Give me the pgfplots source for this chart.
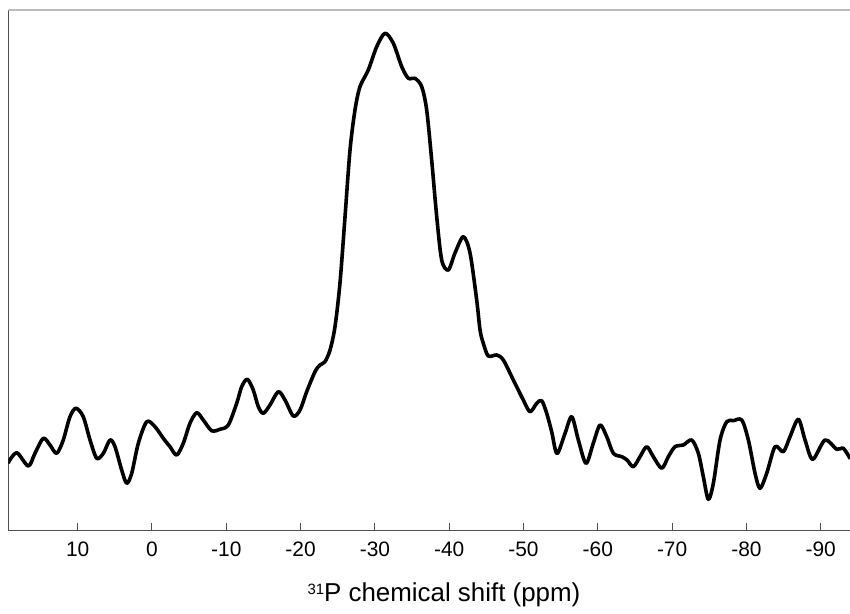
\documentclass[border=0pt]{standalone}
\usepackage{fontspec}
\setmainfont{Liberation Sans}
\usepackage{pgfplots}
\pgfplotsset{compat=1.18}
\usepackage{pgfplotstable}
\definecolor{axisdark}{HTML}{505050}
\definecolor{axislight}{HTML}{BDBDBD}

\pgfplotstableread{
x y
19.34 68.0
18.21 78.0
16.65 64.7
15.75 77.4
14.63 92.4
13.73 85.7
12.83 77.4
11.94 90.7
11.04 114.0
10.23 122.4
9.25 114.0
8.34 90.7
7.44 72.4
6.55 77.4
5.65 90.7
4.98 84.0
4.08 60.7
3.41 47.4
2.73 57.4
1.84 87.4
0.71 109.0
-0.40 104.0
-1.52 92.4
-2.42 84.0
-3.32 75.7
-4.21 87.4
-5.11 107.4
-6.02 118.0
-6.90 110.7
-8.03 100.0
-9.15 101.4
-10.27 105.7
-11.40 127.4
-12.07 144.0
-12.83 151.4
-13.63 140.7
-14.31 124.0
-14.98 117.4
-15.88 125.7
-17.00 139.0
-17.90 130.7
-19.02 114.7
-19.92 120.7
-20.82 139.0
-21.94 159.0
-22.61 165.7
-23.28 169.0
-23.96 180.7
-24.63 204.0
-25.30 247.7
-25.98 314.0
-26.65 380.7
-27.32 420.7
-27.99 444.0
-29.11 460.7
-30.24 484.0
-31.36 497.4
-32.48 487.4
-33.61 464.0
-34.50 452.4
-35.40 452.4
-36.30 444.0
-36.97 420.7
-37.64 370.7
-38.32 314.0
-38.99 270.7
-39.88 260.7
-40.78 277.7
-41.90 294.0
-42.80 277.7
-43.70 230.7
-44.15 200.7
-44.59 187.4
-45.26 174.7
-46.39 175.7
-47.28 170.7
-48.63 150.7
-49.97 130.7
-50.87 119.0
-51.78 127.4
-52.45 130.0
-53.12 117.4
-53.80 98.7
-54.51 77.2
-55.59 97.4
-56.49 114.0
-57.38 90.7
-58.41 67.4
-59.39 87.4
-60.30 105.7
-61.20 94.0
-62.09 77.4
-63.22 74.0
-63.93 70.7
-64.78 64.0
-65.68 74.0
-66.58 84.0
-67.47 74.0
-68.60 62.4
-69.49 74.0
-70.39 84.0
-71.51 85.7
-72.64 90.7
-73.53 77.4
-74.20 54.0
-74.87 31.4
-75.55 47.4
-76.45 90.7
-77.35 109.0
-78.24 110.0
-79.37 110.7
-80.26 90.7
-81.16 57.4
-81.83 42.4
-82.73 57.4
-83.85 84.0
-84.97 79.0
-85.87 94.0
-86.99 111.4
-87.89 90.7
-88.92 71.4
-90.58 90.7
-92.15 81.4
-93.04 82.4
-93.94 72.4
}\spectrum

\begin{document}
\begin{tikzpicture}
\useasboundingbox (-8.3bp,-83.3bp) rectangle (841.7bp,530.7bp);
\begin{axis}[
  at={(0,0)}, anchor=south west,
  scale only axis,
  width=841.7bp, height=520.7bp,
  x dir=reverse,
  xmin=-93.94, xmax=19.34,
  ymin=0, ymax=520.7,
  axis x line*=bottom,
  axis y line*=left,
  axis line style={draw=axisdark, line width=1.3bp},
  ytick=\empty,
  xtick={10,0,-10,-20,-30,-40,-50,-60,-70,-80,-90},
  xticklabels={10,0,-10,-20,-30,-40,-50,-60,-70,-80,-90},
  tick align=inside,
  major tick length=7.3bp,
  tick style={draw=axisdark, line width=1bp},
  xticklabel style={font=\fontsize{21}{25}\selectfont, anchor=base, yshift=-25.3bp, text=black},
  xlabel={\raisebox{7.7bp}{\fontsize{15}{15}\selectfont 31}P chemical shift (ppm)},
  xlabel style={font=\fontsize{26}{30}\selectfont, at={(axis description cs:0.5,0)}, anchor=base, yshift=-71bp, xshift=14.8bp},
  clip=true,
]
\addplot[black, line width=3.6bp, smooth, tension=0.5, line join=round, line cap=round] table[x=x,y=y] {\spectrum};
\draw[axislight, line width=1.1bp] (rel axis cs:0,1) -- (rel axis cs:1,1);
\end{axis}
\end{tikzpicture}
\end{document}
